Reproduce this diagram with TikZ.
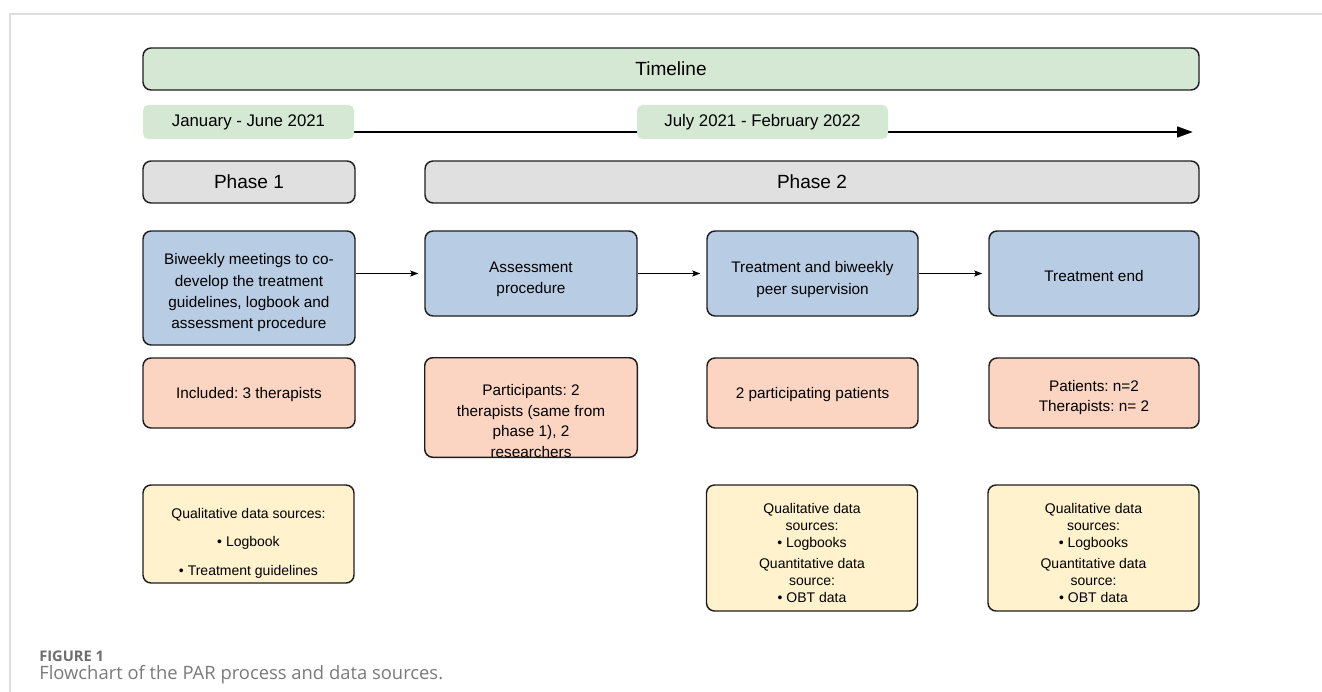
\documentclass[tikz,border=0pt]{standalone}
\usepackage{fontspec}
\setmainfont{Liberation Sans}
\newfontfamily\capfont{Open Sans}
\usetikzlibrary{arrows.meta}
\frenchspacing
\definecolor{tlgreen}{HTML}{D5E8D4}
\definecolor{phgray}{HTML}{E0E0E0}
\definecolor{bblue}{HTML}{B8CCE4}
\definecolor{borange}{HTML}{FBD5C2}
\definecolor{byellow}{HTML}{FFF2CC}
\definecolor{frameg}{HTML}{DDDDDD}
\definecolor{capgray}{HTML}{6E6E6E}
\definecolor{capgraylt}{HTML}{7A7A7A}
\definecolor{edge}{HTML}{1E1E1E}
\tikzset{
  sz/.style 2 args={minimum width=#1*0.75pt, minimum height=#2*0.75pt},
  boxline/.style={draw=edge, line width=1.1pt, rounded corners=6pt},
  box/.style={boxline, inner sep=0pt, anchor=center},
  lbl/.style={inner sep=0pt, align=center, text=black},
  bigf/.style={font=\fontsize{14.3}{17}\selectfont},
  midf/.style={font=\fontsize{12.6}{15}\selectfont},
  bodyf/.style={font=\fontsize{11.5}{15.6}\selectfont},
  smallf/.style={font=\fontsize{10.5}{12.75}\selectfont},
  datef/.style={fill=tlgreen, rounded corners=4pt, inner sep=0pt, anchor=center},
  tlarrow/.style={line width=2pt, -{Triangle[length=12pt,width=8pt]}},
  flowarrow/.style={line width=0.8pt, -{Stealth[length=6pt,width=4.5pt,inset=1.2pt]}, shorten >=4.5pt},
}
\begin{document}
\begin{tikzpicture}[x=0.75pt,y=-0.75pt]
\useasboundingbox (0,0) rectangle (1322,692);
% frame
\draw[frameg, line width=1.5pt] (10,692) -- (10,14) -- (1322,14);

% timeline header
\node[box, fill=tlgreen, sz={1056}{42}] (tl) at (671,69) {};
\node[lbl, bigf] (tlt) at (tl.center) {Timeline};

% time axis
\coordinate (axs) at (143,132);
\coordinate (axe) at (1193,132);
\draw[tlarrow] (axs) -- (axe);
\node[datef, sz={211}{34}] (jan) at (248.5,122) {};
\node[lbl, midf] (jant) at (jan.center) {January - June 2021};
\node[datef, sz={251}{34}] (jul) at (762.5,122) {};
\node[lbl, midf] (jult) at (jul.center) {July 2021 - February 2022};

% phases
\node[box, fill=phgray, sz={212}{42}] (ph1) at (249,182) {};
\node[lbl, bigf] (ph1t) at (ph1.center) {Phase 1};
\node[box, fill=phgray, sz={774}{42}] (ph2) at (812,182) {};
\node[lbl, bigf] (ph2t) at (ph2.center) {Phase 2};

% blue process boxes
\node[box, fill=bblue, sz={212}{114}] (b1) at (249,288) {};
\node[lbl, bodyf, font=\fontsize{11.5}{16}\selectfont] (b1t) at (249,293) {Biweekly meetings to co-\\develop the treatment\\guidelines, logbook and\\assessment procedure};
\node[box, fill=bblue, sz={212}{85}] (b2) at (531,273.5) {};
\node[lbl, bodyf, font=\fontsize{11.5}{16}\selectfont] (b2t) at (531,279) {Assessment\\procedure};
\node[box, fill=bblue, sz={211}{85}] (b3) at (812.5,273.5) {};
\node[lbl, bodyf, font=\fontsize{11.5}{16}\selectfont] (b3t) at (812.5,279.5) {Treatment and biweekly\\peer supervision};
\node[box, fill=bblue, sz={210}{85}] (b4) at (1094,273.5) {};
\node[lbl, bodyf] (b4t) at (1094,276) {Treatment end};

\draw[flowarrow] (b1.east |- b2.west) -- (b2.west);
\draw[flowarrow] (b2.east) -- (b3.west);
\draw[flowarrow] (b3.east) -- (b4.west);

% orange participant boxes
\node[box, fill=borange, sz={212}{70}] (o1) at (249,393) {};
\node[lbl, bodyf] (o1t) at (249,395) {Included: 3 therapists};
\node[inner sep=0pt, fill=borange, rounded corners=6pt, sz={212}{99}] (o2) at (531,407.5) {};
\node[lbl, bodyf] (o2t) at (531,421) {Participants: 2\\therapists (same from\\phase 1), 2\\researchers};
\draw[boxline] (o2.south west) rectangle (o2.north east);
\node[box, fill=borange, sz={211}{70}] (o3) at (812.5,393) {};
\node[lbl, bodyf] (o3t) at (812.5,395) {2 participating patients};
\node[box, fill=borange, sz={210}{70}] (o4) at (1094,393) {};
\node[lbl, bodyf, font=\fontsize{11.5}{15}\selectfont] (o4t) at (1094,398) {Patients: n=2\\Therapists: n= 2};

% yellow data-source boxes
\node[box, fill=byellow, sz={211}{98}] (y1) at (248.5,534) {};
\node[lbl, smallf, font=\fontsize{10.5}{21.4}\selectfont] (y1t) at (248.5,543) {Qualitative data sources:\\\textbullet{} Logbook\\\textbullet{} Treatment guidelines};
\node[box, fill=byellow, sz={211}{126}] (y2) at (812,548) {};
\node[lbl, smallf] (y2t) at (812,553) {Qualitative data\\sources:\\\textbullet{} Logbooks\\[2.5pt]Quantitative data\\source:\\\textbullet{} OBT data};
\node[box, fill=byellow, sz={211}{126}] (y3) at (1093.5,548) {};
\node[lbl, smallf] (y3t) at (1093.5,553) {Qualitative data\\sources:\\\textbullet{} Logbooks\\[2.5pt]Quantitative data\\source:\\\textbullet{} OBT data};

% caption
\node[anchor=west, inner sep=0pt, text=capgray, font=\capfont\bfseries\fontsize{11}{12}\selectfont] (fig) at (39,656) {FIGURE 1};
\node[anchor=west, inner sep=0pt, text=capgraylt, font=\capfont\fontsize{13.8}{16}\selectfont] (cap) at (39,675) {Flowchart of the PAR process and data sources.};
\end{tikzpicture}
\end{document}
